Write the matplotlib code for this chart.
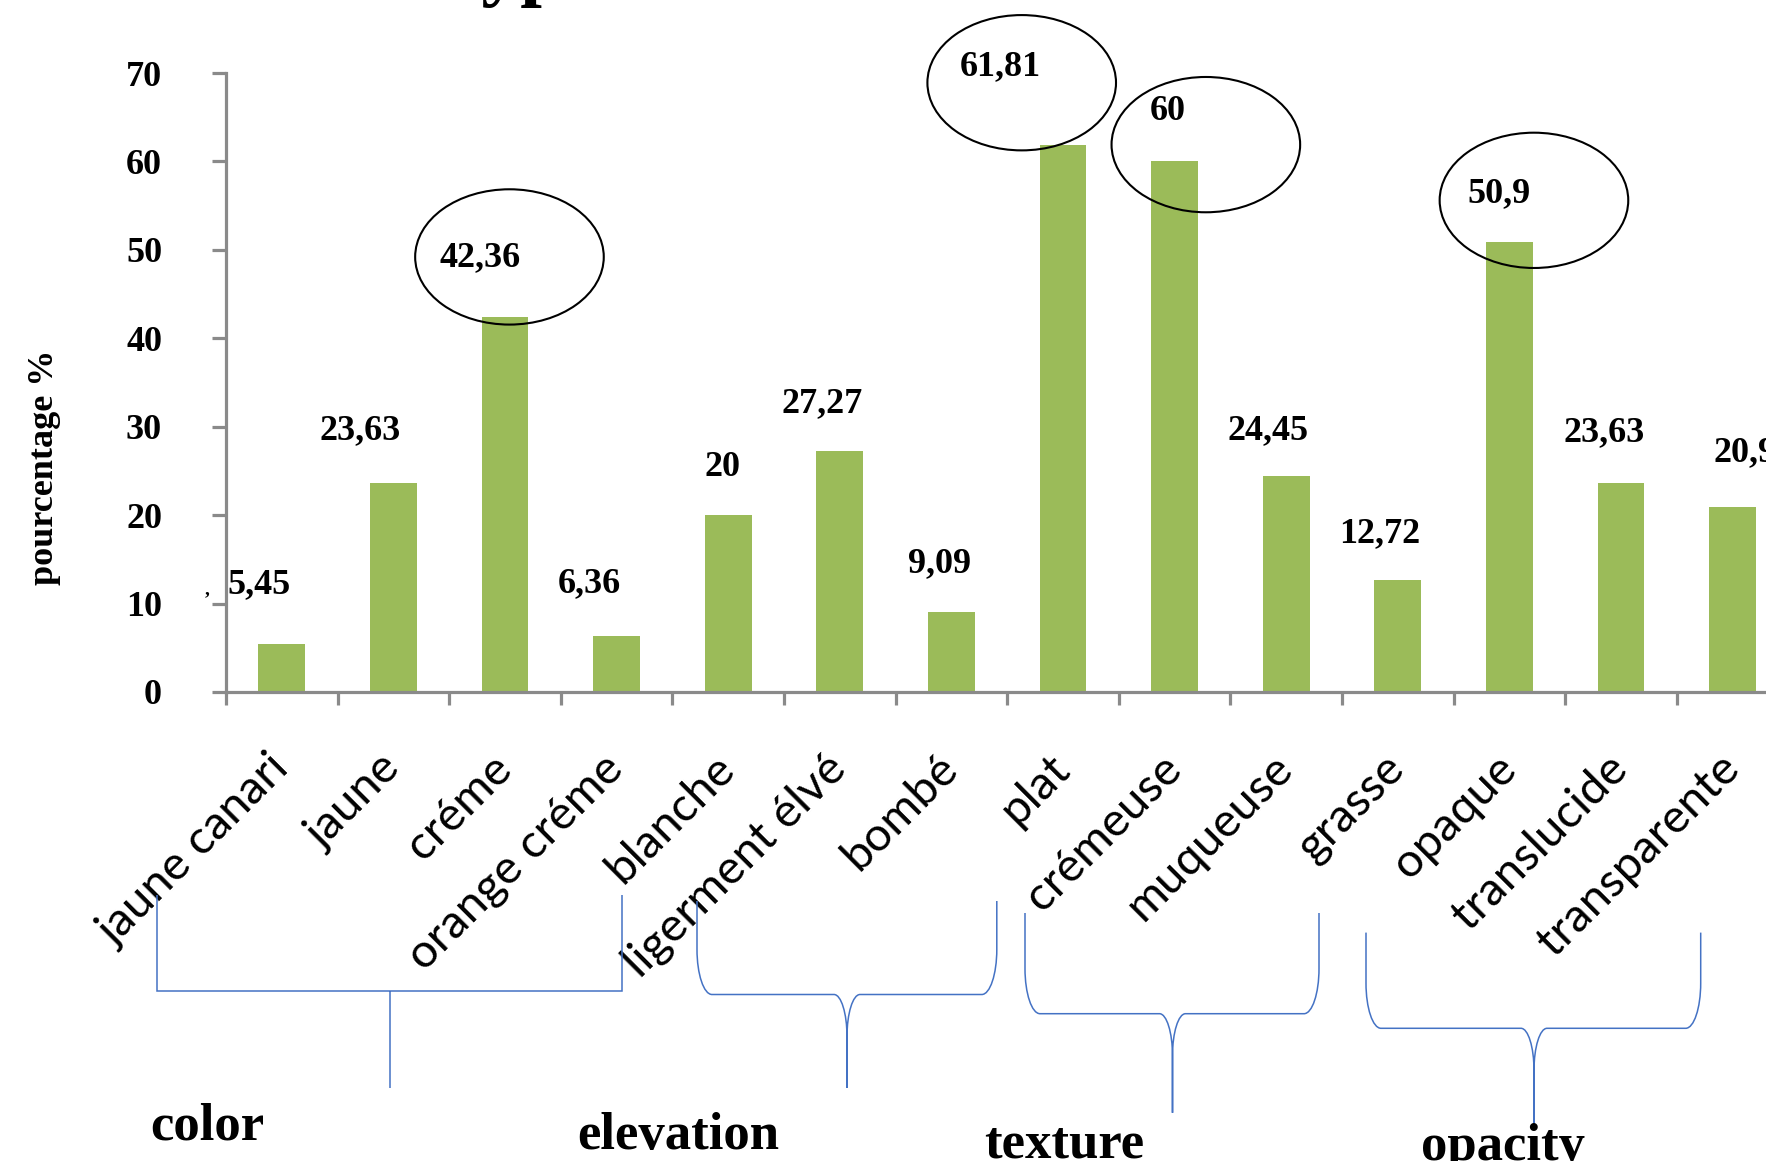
import numpy as np
import matplotlib
matplotlib.use("Agg")
import matplotlib.pyplot as plt
from matplotlib.patches import Ellipse, PathPatch
from matplotlib.path import Path
from matplotlib.transforms import ScaledTranslation

# ---- data -------------------------------------------------------------
categories = ["jaune canari", "jaune", "créme", "orange créme", "blanche",
              "ligerment élvé", "bombé", "plat", "crémeuse", "muqueuse",
              "grasse", "opaque", "translucide", "transparente"]
values = [5.45, 23.63, 42.36, 6.36, 20, 27.27, 9.09,
          61.81, 60, 24.45, 12.72, 50.9, 23.63, 20.91]
value_texts = ["5,45", "23,63", "42,36", "6,36", "20", "27,27", "9,09",
               "61,81", "60", "24,45", "12,72", "50,9", "23,63", "20,91"]
y_ticks = [0, 10, 20, 30, 40, 50, 60, 70]
groups = ["color", "elevation", "texture", "opacity"]
highlighted = [2, 7, 8, 11]          # bars whose labels are circled

# ---- layout / style ---------------------------------------------------
W, H = 1766, 1161
BAR = "#9BBB59"
AXIS = "#8A8A8A"
BLUE = "#4472C4"

# label nudges in pixels (dx, dy above the bar top)
label_offsets = [(-23, 59), (-33, 52), (-25, 60), (-27, 52), (-6, 48),
                 (-18, 47), (-12, 48), (-63, 79), (-7, 50), (-18, 45),
                 (-18, 46), (-10, 48), (-17, 50), (21, 54)]
# ellipse centres relative to the circled bar (dx in categories, y in %)
ellipse_layout = [(0.04, 49.2), (-0.37, 68.9), (0.28, 61.9), (0.22, 55.6)]

# group brackets in pixels: kind, x_left, x_right, y_top, y_bar, x_stem, y_bottom
brackets = [("square", 156.6, 621.7, 895, 991, 389.7, 1088),
            ("brace", 697, 996.8, 901, 994.5, 847, 1088),
            ("brace", 1025, 1319, 913, 1013.7, 1172.5, 1112.8),
            ("brace", 1366, 1700.7, 932.6, 1028.3, 1534, 1129.7)]
group_label_pos = [(207, 1140), (678, 1149), (1064, 1157), (1503, 1160)]

plt.rcParams["font.family"] = ["Liberation Serif", "DejaVu Serif"]
plt.rcParams["font.weight"] = "bold"

fig = plt.figure(figsize=(W / 100, H / 100), dpi=100)
fig.patch.set_facecolor("white")

step = 111.6
ax = fig.add_axes([226 / W, 1 - 692 / H, 14 * step / W, (692 - 73) / H])
x = np.arange(len(categories))
ax.bar(x, values, width=0.42, color=BAR, zorder=2)
ax.set_xlim(-0.5, len(categories) - 0.5)
ax.set_ylim(0, 70)

for s in ("top", "right"):
    ax.spines[s].set_visible(False)
for s in ("left", "bottom"):
    ax.spines[s].set_color(AXIS)
    ax.spines[s].set_linewidth(2.3)

ax.set_yticks(y_ticks)
ax.set_yticklabels([str(t) for t in y_ticks])
ax.tick_params(axis="y", length=10, width=2.3, color=AXIS, pad=36,
               labelsize=26)

ax.set_xticks(x)
ax.set_xticklabels(categories, rotation=45, ha="right", va="center",
                   rotation_mode="anchor", fontfamily="Lato",
                   fontweight="normal", fontsize=34)
ax.tick_params(axis="x", which="major", length=0, pad=50)
ax.set_xticks(np.arange(-0.5, len(categories), 1), minor=True)
ax.tick_params(axis="x", which="minor", length=9.5, width=2.3, color=AXIS,
               direction="out")
shift = ScaledTranslation(0, 0, fig.dpi_scale_trans)
for lbl in ax.get_xticklabels():
    lbl.set_transform(lbl.get_transform() + shift)

# value labels
for i, (v, t) in enumerate(zip(values, value_texts)):
    dx, dy = label_offsets[i]
    ax.annotate(t, xy=(i, v), xytext=(dx, dy), textcoords="offset pixels",
                ha="center", va="center", fontsize=26, fontweight="bold",
                color="black", annotation_clip=False, zorder=5)

# circled highlights
for idx, (ddx, cy) in zip(highlighted, ellipse_layout):
    ax.add_patch(Ellipse((idx + ddx, cy), 1.69, 15.3, fill=False,
                         ec="black", lw=1.5, clip_on=False, zorder=4))

fig.text(45 / W, 1 - 467 / H, "pourcentage %", rotation=90, ha="center",
         va="center", fontsize=26, fontweight="bold")
fig.text(207 / W, 1 - 600 / H, "\u2019", fontsize=14, ha="center",
         va="center")

# title (runs off the top edge)
fig.text(249 / W, 1 + 9 / H, "Phenotypes", fontsize=56, fontweight="bold",
         ha="left", va="baseline")


# ---- group brackets ----------------------------------------------------
def px(xp, yp):
    return (xp / W, 1 - yp / H)


def square_path(xl, xr, yt, yh, xs, yb):
    verts = [px(xl, yt), px(xl, yh), px(xr, yh), px(xr, yt),
             px(xs, yh), px(xs, yb)]
    codes = [Path.MOVETO, Path.LINETO, Path.LINETO, Path.LINETO,
             Path.MOVETO, Path.LINETO]
    return Path(verts, codes)


def brace_path(xl, xr, yt, yh, xs, yb):
    rv, rh = 45, 15      # outer corner radii
    cv, ch = 42, 13      # central cusp radii
    k = 0.55
    verts, codes = [], []
    for side in (-1, 1):
        xe = xl if side < 0 else xr
        d = 1 if side < 0 else -1
        verts += [px(xe, yt), px(xe, yh - rv),
                  px(xe, yh - rv * (1 - k)), px(xe + d * rh * (1 - k), yh),
                  px(xe + d * rh, yh),
                  px(xs - d * ch, yh),
                  px(xs - d * ch * (1 - k), yh), px(xs, yh + cv * (1 - k)),
                  px(xs, yh + cv),
                  px(xs, yb)]
        codes += [Path.MOVETO, Path.LINETO,
                  Path.CURVE4, Path.CURVE4, Path.CURVE4,
                  Path.LINETO,
                  Path.CURVE4, Path.CURVE4, Path.CURVE4,
                  Path.LINETO]
    return Path(verts, codes)


for kind, xl, xr, yt, yh, xs, yb in brackets:
    path = (square_path if kind == "square" else brace_path)(xl, xr, yt, yh, xs, yb)
    fig.add_artist(PathPatch(path, transform=fig.transFigure, fill=False,
                             ec=BLUE, lw=1.1))

for name, (gx, gy) in zip(groups, group_label_pos):
    fig.text(gx / W, 1 - gy / H, name, ha="center", va="baseline",
             fontsize=38, fontweight="bold")

fig.savefig("out.png", dpi=100)
